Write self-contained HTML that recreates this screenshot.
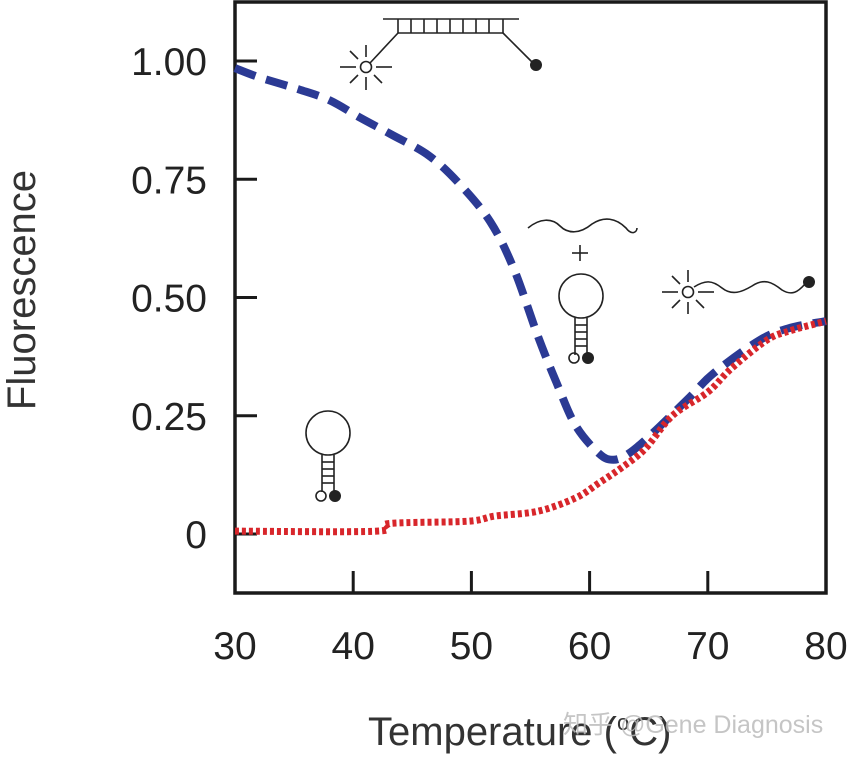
<!DOCTYPE html>
<html><head><meta charset="utf-8"><style>
html,body{margin:0;padding:0;background:#fff;}
svg{display:block;font-family:"Liberation Sans","Noto Sans CJK SC",sans-serif;}
</style></head><body>
<svg id="chart" width="850" height="763" viewBox="0 0 850 763">
<g id="axes"></g>
<g id="series"></g>
<g id="icons" stroke="#222" stroke-width="1.6" fill="none">
  <g>
    <line x1="383" y1="19" x2="519" y2="19"/>
    <line x1="398" y1="33" x2="503" y2="33"/>
    <line x1="398" y1="19" x2="398" y2="33"/><line x1="411" y1="19" x2="411" y2="33"/><line x1="424" y1="19" x2="424" y2="33"/><line x1="437" y1="19" x2="437" y2="33"/><line x1="450" y1="19" x2="450" y2="33"/><line x1="463" y1="19" x2="463" y2="33"/><line x1="476" y1="19" x2="476" y2="33"/><line x1="489" y1="19" x2="489" y2="33"/><line x1="503" y1="19" x2="503" y2="33"/>
    <line x1="398" y1="33" x2="370" y2="63"/>
    <line x1="503" y1="33" x2="533" y2="63"/>
    <circle cx="366" cy="67" r="5.5"/>
    <circle cx="536" cy="65" r="6" fill="#222" stroke="none"/>
    <line x1="340" y1="67" x2="356" y2="67"/><line x1="376" y1="67" x2="392" y2="67"/>
    <line x1="366" y1="45" x2="366" y2="57"/><line x1="366" y1="77" x2="366" y2="90"/>
    <line x1="350" y1="51" x2="358" y2="59"/><line x1="374" y1="75" x2="382" y2="83"/><line x1="350" y1="83" x2="358" y2="75"/>
  </g>
  <g>
    <path d="M528 228 C540 218,552 218,560 226 C568 234,580 234,592 224 C604 216,616 218,626 228 C632 236,637 232,637 228"/>
    <line x1="572" y1="253" x2="588" y2="253"/><line x1="580" y1="245" x2="580" y2="261"/>
    <circle cx="581" cy="296" r="22"/>
    <line x1="575" y1="318" x2="575" y2="355"/><line x1="587" y1="318" x2="587" y2="355"/>
    <line x1="575" y1="325" x2="587" y2="325"/><line x1="575" y1="332" x2="587" y2="332"/><line x1="575" y1="339" x2="587" y2="339"/><line x1="575" y1="346" x2="587" y2="346"/>
    <circle cx="574" cy="358" r="5"/><circle cx="588" cy="358" r="6" fill="#222" stroke="none"/>
  </g>
  <g>
    <circle cx="328" cy="433" r="22"/>
    <line x1="322" y1="455" x2="322" y2="492"/><line x1="334" y1="455" x2="334" y2="492"/>
    <line x1="322" y1="462" x2="334" y2="462"/><line x1="322" y1="469" x2="334" y2="469"/><line x1="322" y1="476" x2="334" y2="476"/><line x1="322" y1="483" x2="334" y2="483"/>
    <circle cx="321" cy="496" r="5"/><circle cx="335" cy="496" r="6" fill="#222" stroke="none"/>
  </g>
  <g>
    <circle cx="688" cy="292" r="5.5"/>
    <line x1="662" y1="292" x2="678" y2="292"/><line x1="698" y1="292" x2="714" y2="292"/>
    <line x1="688" y1="270" x2="688" y2="282"/><line x1="688" y1="302" x2="688" y2="314"/>
    <line x1="672" y1="276" x2="680" y2="284"/><line x1="696" y1="300" x2="704" y2="308"/><line x1="672" y1="308" x2="680" y2="300"/>
    <path d="M694 287 C705 280,712 280,722 288 C732 296,742 292,752 286 C764 278,772 282,782 290 C792 296,798 292,805 284"/>
    <circle cx="809" cy="282" r="6" fill="#222" stroke="none"/>
  </g>
</g>
<text x="22" y="290" font-size="40" fill="#333" text-anchor="middle" transform="rotate(-90 22 290)" dominant-baseline="central">Fluorescence</text>
<text x="368" y="745" font-size="40" fill="#333">Temperature (<tspan font-size="22" dy="-15">o</tspan><tspan dy="15">C)</tspan></text>
<text x="563" y="733" font-size="25" fill="#bbb" fill-opacity="0.85">知乎 @Gene Diagnosis</text>
</svg>
<script>
const xTicks = [30, 40, 50, 60, 70, 80];
const yTicks = [0, 0.25, 0.5, 0.75, 1.0];
const yTickLabels = ["0", "0.25", "0.50", "0.75", "1.00"];
const blueTemps = [30, 32, 35.4, 38, 40.6, 43.2, 46.4, 49, 51.6, 53.6, 55.6, 57.2, 58.8, 60.8, 62, 63.3, 65.2, 68.5, 70.5, 74.4, 77, 80];
const blueValues = [0.985, 0.966, 0.94, 0.917, 0.88, 0.845, 0.80, 0.74, 0.66, 0.56, 0.42, 0.32, 0.23, 0.17, 0.157, 0.17, 0.21, 0.29, 0.34, 0.41, 0.436, 0.45];
const redTemps = [30, 42, 43, 49.7, 52, 55.6, 58.8, 60.8, 62.7, 64.7, 67, 70, 72, 75, 77, 80];
const redValues = [0.006, 0.006, 0.022, 0.027, 0.038, 0.048, 0.076, 0.108, 0.14, 0.18, 0.25, 0.30, 0.35, 0.41, 0.43, 0.45];

const NS = "http://www.w3.org/2000/svg";
const L = 235, R = 826, T = 2, B = 593;
const xs = t => L + (t - 30) * (R - L) / 50;
const ys = v => 534 - v * 473;
function mk(tag, attrs, parent) {
  const e = document.createElementNS(NS, tag);
  for (const k in attrs) e.setAttribute(k, attrs[k]);
  parent.appendChild(e);
  return e;
}
const axes = document.getElementById('axes');
const frame = mk('rect', {x: L, y: T, width: R - L, height: B - T, fill: 'none', stroke: '#1a1a1a', 'stroke-width': 3.5}, axes);


xTicks.forEach(t => {
  if (t > 30 && t < 80) {
    const tk = mk('line', {x1: xs(t), x2: xs(t), y1: B, y2: B - 22, stroke: '#1a1a1a', 'stroke-width': 3}, axes);
    
    
  }
  const lb = mk('text', {x: xs(t), y: 659, 'font-size': 39, fill: '#222', 'text-anchor': 'middle'}, axes);
  lb.textContent = String(t);
  
  
});
yTicks.forEach((v, i) => {
  const tk = mk('line', {x1: L, x2: L + 22, y1: ys(v), y2: ys(v), stroke: '#1a1a1a', 'stroke-width': 3}, axes);
  
  
  const lb = mk('text', {x: 207, y: ys(v) + 14, 'font-size': 39, fill: '#222', 'text-anchor': 'end'}, axes);
  lb.textContent = yTickLabels[i];
  
  
});
function pathOf(ts, vs) {
  const pts = ts.map((t, i) => [xs(t), ys(vs[i])]);
  let d = 'M' + pts[0][0] + ' ' + pts[0][1];
  for (let i = 1; i < pts.length; i++) {
    const p0 = pts[i - 2] || pts[i - 1], p1 = pts[i - 1], p2 = pts[i], p3 = pts[i + 1] || p2;
    const c1x = p1[0] + (p2[0] - p0[0]) / 6, c1y = p1[1] + (p2[1] - p0[1]) / 6;
    const c2x = p2[0] - (p3[0] - p1[0]) / 6, c2y = p2[1] - (p3[1] - p1[1]) / 6;
    d += ` C${c1x} ${c1y},${c2x} ${c2y},${p2[0]} ${p2[1]}`;
  }
  return d;
}
const series = document.getElementById('series');
const blue = mk('path', {d: pathOf(blueTemps, blueValues), fill: 'none', stroke: '#2b3a94', 'stroke-width': 8, 'stroke-dasharray': '22 11'}, series);


const red = mk('path', {d: pathOf(redTemps, redValues), fill: 'none', stroke: '#d8262b', 'stroke-width': 7, 'stroke-dasharray': '4 3'}, series);


</script>
</body></html>
